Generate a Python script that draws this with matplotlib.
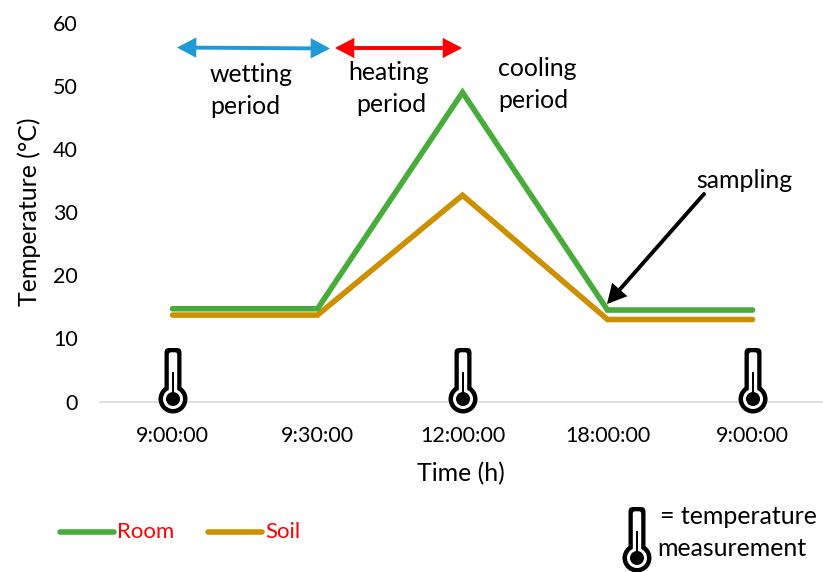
import matplotlib.pyplot as plt
from matplotlib.patches import Circle, FancyBboxPatch, Rectangle

plt.rcParams['font.family'] = ['Lato', 'DejaVu Sans']

times = ['9:00:00', '9:30:00', '12:00:00', '18:00:00', '9:00:00']
room = [14.7, 14.7, 49, 14.5, 14.5]
soil = [13.7, 13.7, 32.7, 13, 13]
yticks = [0, 10, 20, 30, 40, 50, 60]
probe_at = [0, 2, 4]

W, H = 823, 572
GREEN = '#47ac39'
ORANGE = '#cc9000'
FS = 15.5
FS_BIG = 17.9
LW = 4

fig = plt.figure(figsize=(W / 100, H / 100), dpi=100)
ax = fig.add_axes([100 / W, 1 - 401.5 / H, 723 / W, 378.5 / H])
ax.plot(range(5), room, color=GREEN, lw=LW, solid_capstyle='round', solid_joinstyle='miter', zorder=3)
ax.plot(range(5), soil, color=ORANGE, lw=LW, solid_capstyle='round', solid_joinstyle='miter', zorder=2)
ax.set_xlim(-0.5, 4.486)
ax.set_ylim(0, 60)
ax.set_xticks(range(5))
ax.set_xticklabels(times, fontsize=FS)
ax.set_yticks(yticks)
ax.tick_params(axis='both', length=0, labelsize=FS, colors='black')
ax.tick_params(axis='x', pad=18)
ax.tick_params(axis='y', pad=16)
for s in ['top', 'right', 'left']:
    ax.spines[s].set_visible(False)
ax.spines['bottom'].set_color('#d9d9d9')
ax.spines['bottom'].set_linewidth(1.2)
ax.set_xlabel('Time (h)', fontsize=FS_BIG, labelpad=0)
ax.xaxis.set_label_coords((461 - 100) / 723, (401.5 - 474) / 378.5)
ax.xaxis.label.set_verticalalignment('center')
ax.set_ylabel('Temperature (°C)', fontsize=FS_BIG)
ax.yaxis.set_label_coords((29 - 100) / 723, (401.5 - 212) / 378.5)
ax.yaxis.label.set_verticalalignment('center')

# overlay in pixel coordinates for the hand drawn bits
ov = fig.add_axes([0, 0, 1, 1], zorder=5)
ov.set_xlim(0, W)
ov.set_ylim(H, 0)
ov.axis('off')


def thermometer(cx, cy):
    top = cy - 51
    ov.add_patch(Circle((cx, cy), 14.5, fc='black', ec='none'))
    ov.add_patch(FancyBboxPatch((cx - 4, top + 4.5), 8, 44, boxstyle='round,pad=4.5,rounding_size=4.5', fc='black', ec='none'))
    ov.add_patch(FancyBboxPatch((cx - 2, top + 6.5), 4, 40, boxstyle='round,pad=2.2,rounding_size=2.2', fc='white', ec='none'))
    ov.add_patch(Circle((cx, cy), 10, fc='white', ec='none'))
    ov.add_patch(Circle((cx, cy), 7, fc='black', ec='none'))
    ov.add_patch(Rectangle((cx - 1.4, cy - 27), 2.8, 24, fc='black', ec='none'))


def px_x(i):
    return 100 + (i + 0.5) * 723 / 4.986


for i in probe_at:
    thermometer(px_x(i) + 0.5, 399)
thermometer(637, 558)

HEAD = ',head_length=0.95,head_width=0.5'


def arrow(x0, y0, x1, y1, color, style='<|-|>', lw=2.8):
    ov.annotate('', xy=(x1, y1), xytext=(x0, y0),
                arrowprops=dict(arrowstyle=style + HEAD, color=color, lw=lw, mutation_scale=10,
                                shrinkA=0, shrinkB=0, joinstyle='miter'))


arrow(177, 47.5, 330, 48.5, '#1f9ad6')
arrow(335, 48, 462, 48, '#ff0000')
arrow(704, 194, 607, 304, 'black', style='-|>')

for x, y, t in [(251, 74, 'wetting'), (245, 106, 'period'), (389, 72, 'heating'), (391, 105, 'period'),
                (537, 68, 'cooling'), (533, 101, 'period'), (744, 181, 'sampling'),
                (738, 517, '= temperature'), (732, 549, 'measurement')]:
    ov.text(x, y, t, ha='center', va='center', fontsize=FS_BIG, color='black')

# legend
ov.plot([60, 114], [532, 532], color=GREEN, lw=LW, solid_capstyle='round')
ov.text(117, 532, 'Room', color='#ff0000', fontsize=FS + 0.5, va='center', ha='left')
ov.plot([208, 262], [532, 532], color=ORANGE, lw=LW, solid_capstyle='round')
ov.text(265, 532, 'Soil', color='#ff0000', fontsize=FS + 0.5, va='center', ha='left')

fig.savefig('out.png', dpi=100)
